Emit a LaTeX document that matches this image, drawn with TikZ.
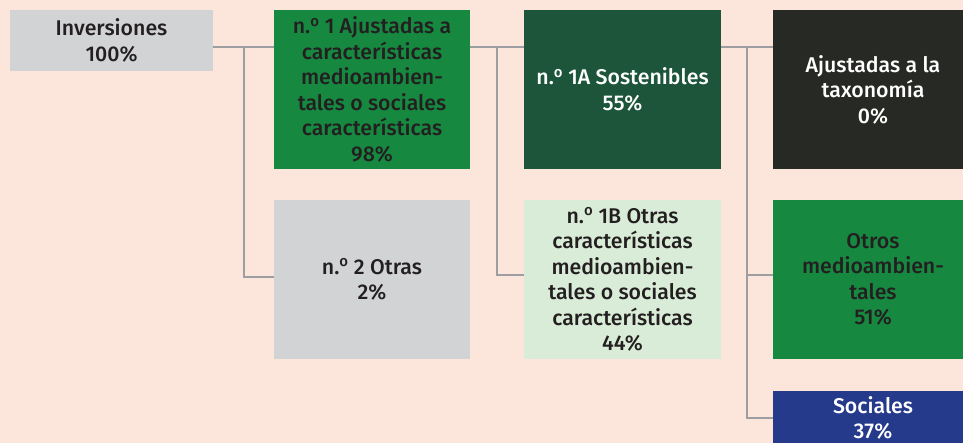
\documentclass[tikz,border=0pt]{standalone}
\usepackage{fontspec}
\setmainfont{Fira Sans}[UprightFont=* Medium]
\usepackage{xcolor}
\usepackage{tikz}
\usetikzlibrary{calc}

\definecolor{bgpink}{HTML}{FCE6DC}
\definecolor{boxgray}{HTML}{D2D3D5}
\definecolor{midgreen}{HTML}{168840}
\definecolor{darkgreen}{HTML}{1C553A}
\definecolor{nearblack}{HTML}{272A24}
\definecolor{palegreen}{HTML}{D9ECD7}
\definecolor{navyblue}{HTML}{263A8C}
\definecolor{linegray}{HTML}{9D9EA1}
\definecolor{inkdark}{HTML}{231F20}

\newcommand{\nord}{n.\textsuperscript{o}}

\begin{document}
\begin{tikzpicture}[x=1pt, y=-1pt,
    box/.style={rectangle, minimum width=197pt, minimum height=159pt, inner sep=0pt,
        align=center, text=inkdark, font=\fontsize{21.3}{25.5}\selectfont},
    conn/.style={draw=linegray, line width=2.6pt}]
    % Background
    \fill[bgpink] (0,0) rectangle (963,443);
    \useasboundingbox (0,0) rectangle (963,443);

    % Column 1
    \node[box, fill=boxgray, minimum width=203pt, minimum height=61pt] (inv) at (111.5,40.5) {Inversiones\\100\%};

    % Column 2
    \node[box, fill=midgreen, minimum width=196pt] (n1) at (372,89.5) {\nord{} 1 Ajustadas a\\características\\medioambien-\\tales o sociales\\características\\98\%};
    \node[box, fill=boxgray, minimum width=196pt] (n2) at (372,279.5) {\nord{} 2 Otras\\2\%};

    % Column 3
    \node[box, fill=darkgreen, text=white] (s1a) at (622.5,89.5) {\nord{} 1A Sostenibles\\55\%};
    \node[box, fill=palegreen] (s1b) at (622.5,279.5) {\nord{} 1B Otras\\características\\medioambien-\\tales o sociales\\características\\44\%};

    % Column 4
    \node[box, fill=nearblack, text=white, minimum width=200pt] (tax) at (873,89.5) {Ajustadas a la\\taxonomía\\0\%};
    \node[box, fill=midgreen, minimum width=200pt] (otros) at (873,279.5) {Otros\\medioambien-\\tales\\51\%};
    \node[box, fill=navyblue, text=white, minimum width=200pt, minimum height=0pt,
        inner ysep=5pt, anchor=north] (soc) at (873,391) {Sociales\\37\%};

    % Connectors
    \coordinate (j1) at (244,47);
    \coordinate (j2) at (497,47);
    \coordinate (j3) at (747,47);
    \draw[conn] (inv.east |- j1) -- (n1.west |- j1);
    \draw[conn] (j1) |- ([yshift=2.5pt]n2.west);
    \draw[conn] (n1.east |- j2) -- (s1a.west |- j2);
    \draw[conn] (j2) |- ([yshift=4.5pt]s1b.west);
    \draw[conn] (s1a.east |- j3) -- (tax.west |- j3);
    \draw[conn] (j3) |- ([yshift=4.5pt]otros.west);
    \draw[conn] (j3) |- ([yshift=-27pt]soc.north west);
\end{tikzpicture}
\end{document}
